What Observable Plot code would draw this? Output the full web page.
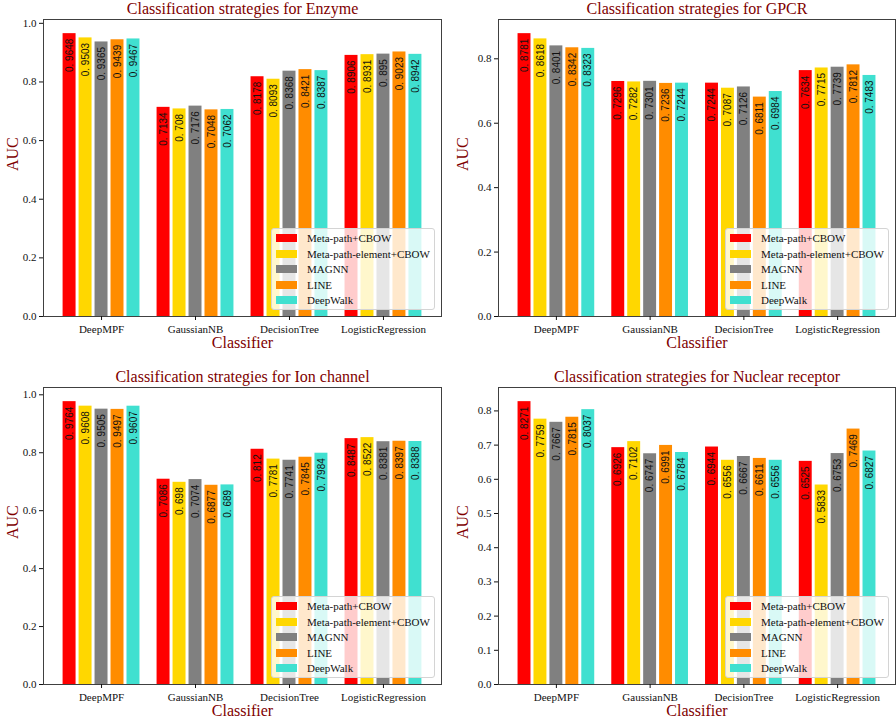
<!DOCTYPE html>
<html>
<head>
<meta charset="utf-8">
<script src="https://cdn.jsdelivr.net/npm/d3@7"></script>
<script src="https://cdn.jsdelivr.net/npm/@observablehq/plot@0.6"></script>
<style>
  body { margin: 0; background: #fff; }
  #root { position: relative; width: 896px; height: 719px; overflow: hidden; background: #fff; }
  .panel { position: absolute; }
  .panel svg { font-family: "Liberation Serif", "Times New Roman", serif; font-size: 11px; }
  .legend { position: absolute; width: 164px; height: 82px; box-sizing: border-box;
    background: rgba(255,255,255,0.8); border: 1px solid #d4d4d4; border-radius: 3px;
    font-family: "Liberation Serif", "Times New Roman", serif; font-size: 11px; color: #111; }
  .legend .row { position: absolute; left: 4px; height: 16px; display: flex; align-items: center; white-space: nowrap; }
  .legend .sw { width: 21px; height: 8px; margin-right: 10px; }
</style>
</head>
<body>
<div id="root"></div>
<script>
const classifiers = ["DeepMPF", "GaussianNB", "DecisionTree", "LogisticRegression"];
const methods = ["Meta-path+CBOW", "Meta-path-element+CBOW", "MAGNN", "LINE", "DeepWalk"];
const colors = ["#ff0000", "#ffd700", "#808080", "#ff8c00", "#40e0d0"];

// values per method, across classifiers
const enzyme = [
  [0.9648, 0.7134, 0.8178, 0.8906],
  [0.9503, 0.708, 0.8093, 0.8931],
  [0.9365, 0.7176, 0.8368, 0.895],
  [0.9439, 0.7048, 0.8421, 0.9023],
  [0.9467, 0.7062, 0.8387, 0.8942]
];
const gpcr = [
  [0.8781, 0.7296, 0.7244, 0.7634],
  [0.8618, 0.7282, 0.7087, 0.7715],
  [0.8401, 0.7301, 0.7126, 0.7739],
  [0.8342, 0.7236, 0.6811, 0.7812],
  [0.8323, 0.7244, 0.6984, 0.7483]
];
const ionChannel = [
  [0.9764, 0.7086, 0.812, 0.8487],
  [0.9608, 0.698, 0.7781, 0.8522],
  [0.9505, 0.7074, 0.7741, 0.8381],
  [0.9497, 0.6877, 0.7845, 0.8397],
  [0.9607, 0.689, 0.7984, 0.8388]
];
const nuclearReceptor = [
  [0.8271, 0.6926, 0.6944, 0.6525],
  [0.7759, 0.7102, 0.6556, 0.5833],
  [0.7667, 0.6747, 0.6667, 0.6753],
  [0.7815, 0.6991, 0.6611, 0.7469],
  [0.8037, 0.6784, 0.6556, 0.6827]
];

const ticksEnzyme = [0, 0.2, 0.4, 0.6, 0.8, 1.0];
const ticksGpcr = [0, 0.2, 0.4, 0.6, 0.8];
const ticksIon = [0, 0.2, 0.4, 0.6, 0.8, 1.0];
const ticksNuclear = [0, 0.1, 0.2, 0.3, 0.4, 0.5, 0.6, 0.7, 0.8];

const titles = [
  "Classification strategies for Enzyme",
  "Classification strategies for GPCR",
  "Classification strategies for Ion channel",
  "Classification strategies for Nuclear receptor"
];

const panels = [
  {values: enzyme, ticks: ticksEnzyme, title: titles[0], left: 0, top: 0, width: 448, height: 360, ml: 43, mr: 7, mb: 44, auc: -31},
  {values: gpcr, ticks: ticksGpcr, title: titles[1], left: 448, top: 0, width: 448, height: 360, ml: 50, mr: 1, mb: 44, auc: -36},
  {values: ionChannel, ticks: ticksIon, title: titles[2], left: 0, top: 368, width: 448, height: 351, ml: 43, mr: 7, mb: 35, auc: -31},
  {values: nuclearReceptor, ticks: ticksNuclear, title: titles[3], left: 448, top: 368, width: 448, height: 351, ml: 50, mr: 1, mb: 35, auc: -36}
];

const W = 0.17;
const dark = "#800000";
const serif = "'Liberation Serif', 'Times New Roman', serif";
const fmt = v => String(v).replace("0.", "0. ");
const root = document.getElementById("root");

for (const p of panels) {
  const rows = [];
  p.values.forEach((arr, mi) => arr.forEach((v, ci) => rows.push({method: methods[mi], mi, ci, value: v})));
  const vmax = d3.max(rows, d => d.value);
  const lo = -2.5 * W, hi = 3 + 2.5 * W, pad = 0.05 * (hi - lo);
  const mt = 19;
  const chart = Plot.plot({
    width: p.width,
    height: p.height,
    marginLeft: p.ml,
    marginRight: p.mr,
    marginTop: mt,
    marginBottom: p.mb,
    style: {fontFamily: serif, fontSize: "11px", color: "#111", background: "transparent"},
    x: {domain: [lo - pad, hi + pad]},
    y: {domain: [0, vmax * 1.05]},
    color: {domain: methods, range: colors},
    marks: [
      Plot.rectY(rows, {
        x1: d => d.ci + (d.mi - 2.5) * W,
        x2: d => d.ci + (d.mi - 1.5) * W,
        y: "value", fill: "method", insetLeft: 1.5, insetRight: 1.5
      }),
      Plot.text(rows, {
        x: d => d.ci + (d.mi - 2) * W, y: "value", text: d => fmt(d.value),
        rotate: -90, textAnchor: "end", dy: 5, fontSize: 10,
        fontFamily: "'Liberation Sans', Arial, sans-serif", fill: "#111"
      }),
      Plot.frame({stroke: "#404040"}),
      Plot.axisY({ticks: p.ticks, tickFormat: d3.format(".1f"), tickSize: 4, tickPadding: 3, label: null, fontFamily: serif, fontSize: 11}),
      Plot.axisX({ticks: [0, 1, 2, 3], tickFormat: i => classifiers[i], tickSize: 4, tickPadding: 5, label: null, fontFamily: serif, fontSize: 11}),
      Plot.text([p.title], {text: d => d, frameAnchor: "top", lineAnchor: "bottom", dy: -6, fontSize: 16, fill: dark, fontFamily: serif}),
      Plot.text(["AUC"], {text: d => d, frameAnchor: "left", rotate: -90, dx: p.auc, dy: 3, fontSize: 16, fill: dark, fontFamily: serif}),
      Plot.text(["Classifier"], {text: d => d, frameAnchor: "bottom", dy: 31, fontSize: 16, fill: dark, fontFamily: serif})
    ]
  });
  const div = document.createElement("div");
  div.className = "panel";
  div.style.left = p.left + "px";
  div.style.top = p.top + "px";
  div.style.width = p.width + "px";
  div.style.height = p.height + "px";
  div.appendChild(chart);
  // legend, lower right inside the frame
  const lg = document.createElement("div");
  lg.className = "legend";
  lg.style.left = (p.width - p.mr - 6 - 164) + "px";
  lg.style.top = (p.height - p.mb - 6 - 82) + "px";
  methods.forEach((m, i) => {
    const r = document.createElement("div");
    r.className = "row";
    r.style.top = (1 + i * 15.6) + "px";
    const sw = document.createElement("span");
    sw.className = "sw";
    sw.style.background = colors[i];
    r.appendChild(sw);
    r.appendChild(document.createTextNode(m));
    lg.appendChild(r);
  });
  div.appendChild(lg);
  root.appendChild(div);
}
</script>
</body>
</html>
